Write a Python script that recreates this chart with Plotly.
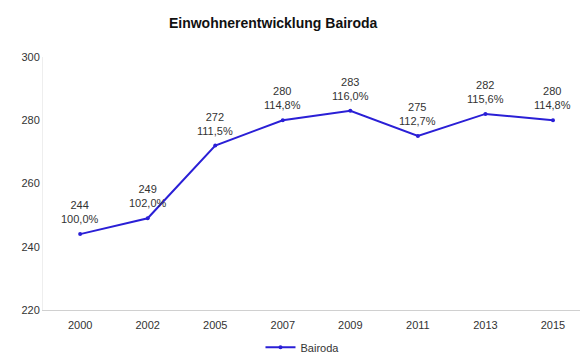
import plotly.graph_objects as go

years = ["2000", "2002", "2005", "2007", "2009", "2011", "2013", "2015"]
population = [244, 249, 272, 280, 283, 275, 282, 280]
percent = ["100,0%", "102,0%", "111,5%", "114,8%", "116,0%", "112,7%", "115,6%", "114,8%"]
y_ticks = [220, 240, 260, 280, 300]

fig = go.Figure()
fig.add_trace(go.Scatter(
    x=years, y=population, mode="lines+markers", name="Bairoda",
    line=dict(color="#2a1fd6", width=2),
    marker=dict(color="#2a1fd6", size=4),
))
for i, (v, p) in enumerate(zip(population, percent)):
    fig.add_annotation(x=i, y=v, xref="x", yref="y", text=f"{v}<br>{p}", showarrow=False,
                       yanchor="bottom", yshift=7,
                       font=dict(family="Liberation Sans, Arial", size=11, color="#333333"))

fig.update_layout(
    width=580, height=356,
    margin=dict(l=43, r=0, t=57, b=46, autoexpand=False),
    paper_bgcolor="white", plot_bgcolor="white",
    font=dict(family="Liberation Sans, Arial", size=11, color="#333333"),
    title=dict(text="<b>Einwohnerentwicklung Bairoda</b>", x=0.471, xanchor="center",
               y=0.935, yanchor="middle",
               font=dict(family="Liberation Sans, Arial", size=14, color="#111111")),
    showlegend=True,
    legend=dict(orientation="h", x=0.405, xanchor="left", y=-0.09, yanchor="top",
                itemwidth=30, font=dict(size=11, color="#333333")),
    xaxis=dict(type="category", range=[-0.55, 7.4], showgrid=False,
               showline=True, linecolor="#d0d0d0", ticks="outside", ticklen=5,
               tickcolor="rgba(0,0,0,0)", tickfont=dict(size=11)),
    yaxis=dict(range=[220, 300], tickvals=y_ticks, showgrid=False,
               showline=True, linecolor="#eeeeee", ticks="", zeroline=False,
               tickfont=dict(size=11)),
)
fig.write_html("out.html")
